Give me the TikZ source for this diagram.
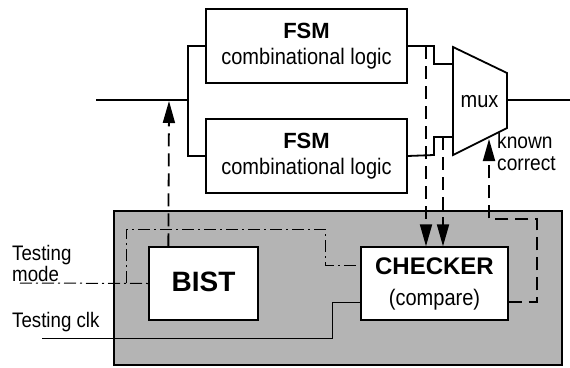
\documentclass[tikz,border=0pt]{standalone}
\usepackage{fontspec}
\setmainfont{Liberation Sans}
\newfontfamily\narrowfont{Liberation Sans}[FakeStretch=0.89]
\usetikzlibrary{arrows.meta,calc}
\definecolor{panelgray}{RGB}{180,180,180}
\tikzset{
  box/.style={draw=black,line width=1.3pt,fill=white,inner sep=0pt},
  wire/.style={line width=1.8pt},
  thinwire/.style={line width=1pt},
  dwire/.style={line width=1.8pt,dash pattern=on 13pt off 7pt},
  ddwire/.style={line width=1pt,dash pattern=on 12pt off 4pt on 2pt off 4pt},
  tip/.style={-{Triangle[length=22pt,width=12pt]}},
  txt/.style={inner sep=0pt,anchor=base},
  reg/.style={txt,font=\narrowfont\fontsize{22.5}{22}\selectfont},
  lbl/.style={inner sep=0pt,anchor=base west,align=left,font=\narrowfont\fontsize{21}{18}\selectfont},
  bld/.style={txt,font=\bfseries\fontsize{22}{22}\selectfont}
}
\begin{document}
\begin{tikzpicture}[x=1pt,y=-1pt]
\useasboundingbox (0,0) rectangle (570,367);
% gray panel
\node[draw=black,line width=2pt,fill=panelgray,minimum width=448pt,minimum height=154pt,inner sep=0pt] (panel) at (338,288) {};
% FSM boxes
\node[box,minimum width=201pt,minimum height=74pt] (fsm1) at (306.5,46) {};
\node[bld] (fsm1a) at ($(fsm1.north)+(0,30)$) {FSM};
\node[reg] (fsm1b) at ($(fsm1.north)+(0,56)$) {combinational logic};
\node[box,minimum width=201pt,minimum height=74pt] (fsm2) at (306.5,156) {};
\node[bld] (fsm2a) at ($(fsm2.north)+(0,30)$) {FSM};
\node[reg] (fsm2b) at ($(fsm2.north)+(0,56)$) {combinational logic};
% BIST and CHECKER
\node[box,minimum width=109pt,minimum height=73pt] (bist) at (203.5,283.5) {};
\node[txt,font=\bfseries\fontsize{28}{28}\selectfont] (bistt) at ($(bist.north)+(0,45)$) {BIST};
\node[box,minimum width=147pt,minimum height=73pt] (chk) at (434.5,283.5) {};
\node[bld,font=\bfseries\fontsize{24}{24}\selectfont] (chka) at ($(chk.north)+(0,28)$) {CHECKER};
\node[reg] (chkb) at ($(chk.north)+(0,59)$) {(compare)};
% mux
\coordinate (m1) at (453,47);
\coordinate (m2) at (507,73);
\coordinate (m3) at (507,128);
\coordinate (m4) at (453,155);
\draw[line width=1.8pt,fill=white] (m1) -- (m2) -- (m3) -- (m4) -- cycle;
\node[reg] (mux) at (479.5,107) {mux};
% coordinates
\coordinate (in) at (96,100);
\coordinate (split) at (188,100);
\coordinate (out) at (570,100);
\coordinate (muxout) at (507,100);
\coordinate (a1) at (434,46);
\coordinate (a2) at (434,64);
\coordinate (min1) at (453,64);
\coordinate (b1) at (434,155);
\coordinate (b2) at (434,137);
\coordinate (min2) at (453,137);
% main wires
\draw[wire] (in) -- (split);
\draw[wire] (fsm1.west) -| (split) |- (fsm2.west);
\draw[wire] (fsm1.east) -- (a1) -- (a2) -- (min1);
\draw[wire] (fsm2.east) -- (b1) -- (b2) -- (min2);
\draw[wire] (muxout) -- (out);
% BIST to input
\coordinate (bistup) at ($(bist.north west)+(20,0)$);
\coordinate (intip) at (169,101);
\draw[dwire,tip] (bistup) -- (intip);
% taps to checker
\coordinate (t1) at (426,46);
\coordinate (t2) at (443,137);
\draw[dwire,tip] (t1) -- (t1 |- chk.north);
\draw[dwire,tip] (t2) -- (t2 |- chk.north);
% known correct
\coordinate (k0) at (chk.east |- 0,302);
\coordinate (k1) at (537,302);
\coordinate (k2) at (537,219);
\coordinate (k3) at (489,219);
\coordinate (k4) at (489,139);
\draw[dwire,tip] (k0) -- (k1) -- (k2) -- (k3) -- (k4);
\node[lbl,font=\narrowfont\fontsize{21.5}{22}\selectfont] (kn) at (497,170) {known\\correct};
% testing mode
\coordinate (tm0) at (20,283);
\coordinate (tm1) at (126,283);
\coordinate (tm2) at (126,229);
\coordinate (tm3) at (325,229);
\coordinate (tm4) at (325,265);
\draw[ddwire] (tm0) -- (bist.west);
\draw[ddwire] (tm1) -- (tm2) -- (tm3) -- (tm4) -- (tm4 -| chk.west);
\node[lbl] (tml) at (12,281) {Testing\\mode};
% testing clk
\coordinate (tc0) at (42,338);
\coordinate (tc1) at (332,338);
\coordinate (tc2) at (332,302);
\draw[thinwire] (tc0) -- (tc1) -- (tc2) -- (tc2 -| chk.west);
\node[lbl] (tcl) at (12,327) {Testing clk};
\end{tikzpicture}
\end{document}
